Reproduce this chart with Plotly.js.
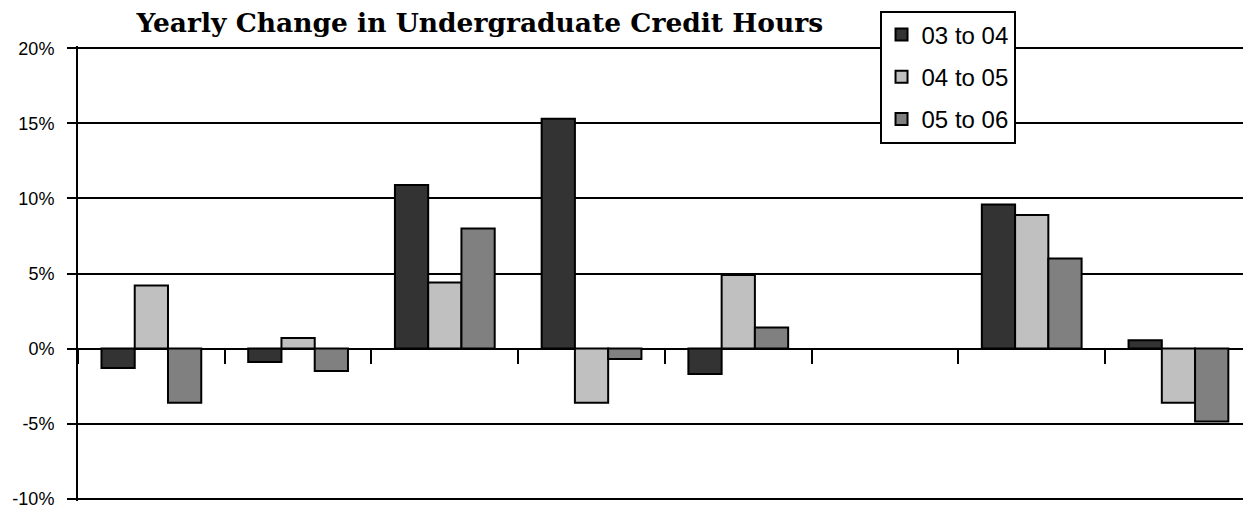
<!DOCTYPE html>
<html>
<head>
<meta charset="utf-8">
<script src="https://cdn.plot.ly/plotly-3.0.1.min.js"></script>
<style>html,body{margin:0;padding:0;background:#fff;}#chart{width:1243px;height:514px;}</style>
</head>
<body>
<div id="chart"></div>
<script>
const categories = ["A", "B", "C", "D", "E", "F", "G", "H"];
const seriesNames = ["03 to 04", "04 to 05", "05 to 06"];
const s0304 = [-1.3, -0.9, 10.9, 15.3, -1.7, null, 9.6, 0.55];
const s0405 = [4.2, 0.7, 4.4, -3.6, 4.9, null, 8.9, -3.6];
const s0506 = [-3.6, -1.5, 8.0, -0.7, 1.4, null, 6.0, -4.85];
const colors = ["#333333", "#c0c0c0", "#808080"];
const yTicks = [-10, -5, 0, 5, 10, 15, 20];
const yTickText = ["-10%", "-5%", "0%", "5%", "10%", "15%", "20%"];

const allSeries = [s0304, s0405, s0506];
const traces = allSeries.map((vals, i) => ({
  type: "bar",
  name: seriesNames[i],
  legendgroup: "g" + i,
  x: categories,
  y: vals,
  marker: {color: colors[i], line: {color: "#000", width: 2}},
  hoverinfo: "skip"
}));

// plot area: 15 px per percentage point; y range padded so edge gridlines are drawn
const layout = {
  width: 1243, height: 514,
  margin: {l: 78, r: 0, t: 45.75, b: 12.75, pad: 0},
  paper_bgcolor: "#fff", plot_bgcolor: "#fff",
  barmode: "group",
  bargap: 0.32, bargroupgap: 0,
  showlegend: true,
  title: {
    text: "<b>Yearly Change in Undergraduate Credit Hours</b>",
    font: {family: "DejaVu Serif", size: 26.5, color: "#000"},
    x: 0.386, xanchor: "center", y: 0.955, yanchor: "middle"
  },
  legend: {
    x: 0.688, xanchor: "left", y: 1.078, yanchor: "top",
    bgcolor: "#fff", bordercolor: "#000", borderwidth: 2,
    font: {family: "Liberation Sans, Arial, sans-serif", size: 24, color: "#000"},
    itemwidth: 30, tracegroupgap: 8, traceorder: "grouped"
  },
  xaxis: {
    type: "category",
    range: [-0.5, 7.44],
    showticklabels: false,
    showgrid: false,
    zeroline: false,
    showline: false,
    ticks: "outside", ticklen: 14, tickwidth: 2, tickcolor: "#000",
    tickson: "boundaries",
    anchor: "free", position: 10.15 / 30.3
  },
  yaxis: {
    range: [-10.15, 20.15],
    tickvals: yTicks, ticktext: yTickText,
    showgrid: true, gridcolor: "#000", gridwidth: 2,
    zeroline: true, zerolinecolor: "#000", zerolinewidth: 2,
    showline: true, linecolor: "#000", linewidth: 2,
    ticks: "outside", ticklen: 9, tickwidth: 2, tickcolor: "#000",
    ticklabelstandoff: 9,
    tickfont: {family: "Liberation Sans, Arial, sans-serif", size: 18, color: "#000"}
  }
};

Plotly.newPlot("chart", traces, layout, {displayModeBar: false, staticPlot: true});
</script>
</body>
</html>
